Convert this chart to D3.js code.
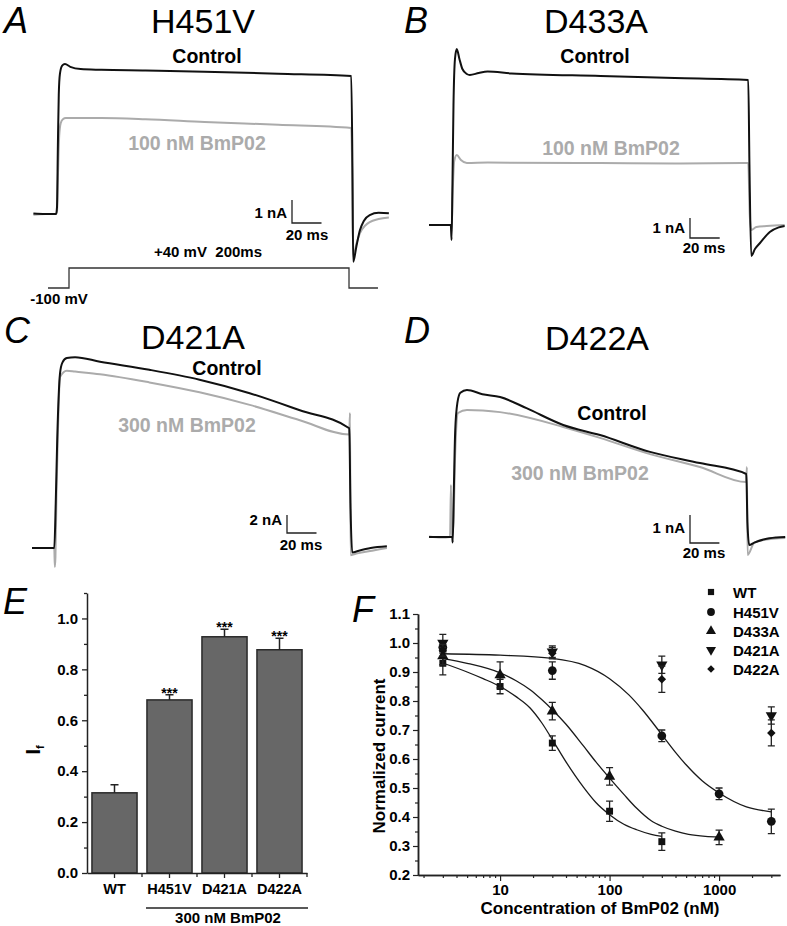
<!DOCTYPE html>
<html>
<head>
<meta charset="utf-8">
<script src="https://cdn.jsdelivr.net/npm/d3@7"></script>
<style>
  body { margin: 0; background: #fff; }
  svg { font-family: "Liberation Sans", Arial, Helvetica, sans-serif; }
</style>
</head>
<body>
<svg id="fig" width="787" height="926"></svg>
<script>
// ---------- current traces: [time (ms from step onset), current (nA)] ----------
const h451vControl = [[-16,0.02],[-8,0],[-0.6,0],[0,0.3],[0.6,3],[1.2,5.2],[2,6.1],[3.5,6.45],[5.4,6.52],[9,6.4],[16,6.3],[30,6.27],[60,6.24],[100,6.19],[150,6.1],[199.5,6.0],[200.3,2],[200.8,-2.08],[203,-1.4],[205.4,-0.7],[208,-0.3],[212,-0.05],[218,0.05],[225,0.03]];
const h451vDrug = [[-16,-0.03],[-8,0],[-0.6,0],[0,0.1],[0.7,1.8],[1.5,3.4],[2.5,3.95],[4,4.12],[6,4.17],[30,4.17],[60,4.12],[100,4.0],[150,3.88],[199.5,3.74],[200.3,1],[200.8,-1.85],[203,-1.3],[205.4,-0.83],[209,-0.5],[212,-0.35],[218,-0.22],[225,-0.15]];

const d433aControl = [[-15.5,0],[-8,0],[-0.8,0],[-0.3,-0.75],[0.3,2],[1,6],[2,8.3],[3.2,8.8],[5,8.3],[7,7.8],[10,7.55],[12,7.5],[18,7.6],[24,7.67],[40,7.58],[100,7.45],[150,7.35],[199.5,7.25],[200.3,3],[201.5,-1.55],[204,-1.2],[207.4,-0.9],[214,-0.35],[220,-0.12],[224,-0.05]];
const d433aDrug = [[-15.5,0],[-8,0],[-0.8,0],[-0.3,-0.3],[0.4,1.5],[1.5,3.2],[3.2,3.5],[6,3.25],[10,3.1],[24,3.12],[100,3.1],[150,3.08],[199.5,3.1],[200.5,0.5],[201.5,-0.25],[205,-0.1],[212,-0.05],[224,0]];

const d421aControl = [[-15.6,0],[-8,0],[-0.5,0],[0.5,5],[1.5,12],[3.4,19.4],[5,20.6],[8,21.1],[13.6,21.2],[30.5,20.7],[64,19.8],[98,18.7],[132,17.2],[166,15.3],[199.5,13.3],[200.3,5],[201.5,-0.5],[206,-0.3],[214,0],[225,0.2]];
const d421aDrug = [[-15.6,0],[-8,0],[-0.5,0],[-0.1,-2.1],[0.3,-1],[1,6],[2,13],[3.4,19],[8,19.7],[13.6,19.6],[30.5,19.3],[64,18.4],[98,17.3],[132,15.9],[166,14.2],[199.5,12.6],[200,15],[200.4,-0.8],[205,-0.6],[215,-0.3],[225,0]];

const d422aControl = [[-16.3,0],[-8,0],[-0.5,0],[-0.2,-0.2],[0.5,1.5],[1.5,3.8],[3,4.8],[5,5.15],[9.5,5.25],[20,5.1],[32,5.0],[50,4.6],[75,4.0],[100,3.64],[134,3.04],[168,2.64],[199.5,2.25],[200.3,0.5],[201.5,-0.29],[205,-0.2],[212,-0.08],[220,-0.02],[226,0]];
const d422aDrug = [[-16.3,0.02],[-8,-0.02],[-2,0],[-1.4,1.86],[-0.9,0],[0.3,0.5],[1.5,3],[3.4,4.43],[9.5,4.54],[32,4.46],[75,3.93],[100,3.54],[134,2.96],[168,2.5],[199.5,1.96],[199.9,2.5],[200.4,-0.64],[205,-0.2],[212,-0.1],[226,-0.04]];

// voltage protocol
const protocolT = [-15, 0, 0.01, 200, 200.01, 220.7];
const protocolV = [-100, -100, 40, 40, -100, -100];

// ---------- panel E: fractional current ----------
const eGroups = ["WT", "H451V", "D421A", "D422A"];
const eMeans = [0.315, 0.68, 0.928, 0.877];
const eErrs = [0.032, 0.02, 0.03, 0.045];
const eSig = ["", "***", "***", "***"];
const eYTicks = [0, 0.2, 0.4, 0.6, 0.8, 1.0];

// ---------- panel F: concentration-response ----------
const fConc = [3, 10, 30, 100, 300, 1000, 3000];
const fSeries = ["WT", "H451V", "D433A", "D421A", "D422A"];
const wtMean    = [0.93, 0.85, 0.655, 0.42, 0.315, null, null];
const wtErr     = [0.04, 0.025, 0.025, 0.035, 0.03, null, null];
const h451vMean = [0.985, null, 0.905, null, 0.68, 0.48, 0.385];
const h451vErr  = [0.02, null, 0.03, null, 0.02, 0.02, 0.042];
const d433aMean = [0.955, 0.89, 0.765, 0.54, null, 0.33, null];
const d433aErr  = [0.03, 0.045, 0.03, 0.03, null, 0.025, null];
const d421aMean = [1.0, null, 0.97, null, 0.925, null, 0.75];
const d421aErr  = [0.03, null, 0.02, null, 0.03, null, 0.03];
const d422aMean = [0.975, null, 0.965, null, 0.875, null, 0.69];
const d422aErr  = [0.02, null, 0.02, null, 0.045, null, 0.045];
// fitted curves: [conc, normalized current]
const wtFit    = [[3,0.931],[5,0.9],[7,0.877],[10,0.85],[14,0.815],[18.8,0.776],[24,0.725],[30,0.667],[40,0.59],[57.7,0.503],[75,0.45],[100,0.408],[135,0.375],[177,0.356],[240,0.34],[300,0.333]];
const d433aFit = [[3,0.946],[5,0.93],[10,0.897],[14,0.87],[18.8,0.839],[24,0.805],[30,0.77],[40,0.72],[57.7,0.645],[75,0.59],[100,0.534],[135,0.478],[177,0.43],[240,0.387],[300,0.368],[400,0.351],[526,0.34],[750,0.333],[1000,0.331]];
const h451vFit = [[3,0.963],[10,0.958],[30,0.947],[60,0.922],[100,0.877],[150,0.821],[200,0.769],[300,0.684],[400,0.623],[500,0.58],[700,0.525],[1000,0.483],[1778,0.435],[3000,0.418]];
const fYTicks = [0.2, 0.3, 0.4, 0.5, 0.6, 0.7, 0.8, 0.9, 1.0, 1.1];
const fXMajor = [10, 100, 1000];

const BLACK = "#111", GREY = "#ababab";
const svg = d3.select("#fig");

// ---------- trace panels A-D ----------
const traceLayout = [
  { letter: "A", lx: 4, ly: 33, title: "H451V", tx: 203, ty: 33, x0: 57, msPx: 1.475, y0: 214, nAPx: 23,
    ctrl: h451vControl, drug: h451vDrug, ctrlPos: [207, 63], drugText: "100 nM BmP02", drugPos: [197, 150],
    bar: [292, 223], barNA: 1, naPos: [287, 218], msPos: [307, 240] },
  { letter: "B", lx: 404, ly: 33, title: "D433A", tx: 596, ty: 33, x0: 452, msPx: 1.485, y0: 225, nAPx: 20,
    ctrl: d433aControl, drug: d433aDrug, ctrlPos: [595, 63], drugText: "100 nM BmP02", drugPos: [611, 155],
    bar: [690, 238], barNA: 1, naPos: [685, 233], msPos: [704, 253] },
  { letter: "C", lx: 4, ly: 343, title: "D421A", tx: 193, ty: 349, x0: 55, msPx: 1.475, y0: 548, nAPx: 9,
    ctrl: d421aControl, drug: d421aDrug, ctrlPos: [227, 375], drugText: "300 nM BmP02", drugPos: [187, 432],
    bar: [287, 533], barNA: 2, naPos: [282, 525], msPos: [301, 550] },
  { letter: "D", lx: 404, ly: 343, title: "D422A", tx: 597, ty: 350, x0: 453, msPx: 1.47, y0: 537, nAPx: 28,
    ctrl: d422aControl, drug: d422aDrug, ctrlPos: [612, 420], drugText: "300 nM BmP02", drugPos: [580, 480],
    bar: [690, 543], barNA: 1, naPos: [685, 533], msPos: [704, 558] }
];

function letter(x, y, t) {
  svg.append("text").attr("x", x).attr("y", y).attr("font-size", 36).attr("font-style", "italic")
    .attr("fill", "#000").text(t);
}

traceLayout.forEach(p => {
  const g = svg.append("g");
  const sx = d3.scaleLinear().domain([0, 200]).range([p.x0, p.x0 + 200 * p.msPx]);
  const sy = d3.scaleLinear().domain([0, 1]).range([p.y0, p.y0 - p.nAPx]);
  const line = d3.line().x(d => sx(d[0])).y(d => sy(d[1])).curve(d3.curveMonotoneX);

  g.append("path").datum(p.drug).attr("d", line).attr("fill", "none")
    .attr("stroke", GREY).attr("stroke-width", 2).attr("stroke-linejoin", "round");
  g.append("path").datum(p.ctrl).attr("d", line).attr("fill", "none")
    .attr("stroke", BLACK).attr("stroke-width", 2).attr("stroke-linejoin", "round");

  letter(p.lx, p.ly, p.letter);
  g.append("text").attr("x", p.tx).attr("y", p.ty).attr("text-anchor", "middle")
    .attr("font-size", 34).text(p.title);
  g.append("text").attr("x", p.ctrlPos[0]).attr("y", p.ctrlPos[1]).attr("text-anchor", "middle")
    .attr("font-size", 19.5).attr("font-weight", "bold").text("Control");
  g.append("text").attr("x", p.drugPos[0]).attr("y", p.drugPos[1]).attr("text-anchor", "middle")
    .attr("font-size", 19.5).attr("font-weight", "bold").attr("fill", GREY).text(p.drugText);

  // scale bar
  const [cx, cy] = p.bar;
  const vLen = sy(0) - sy(p.barNA);
  const hLen = sx(20) - sx(0);
  g.append("path").attr("d", `M${cx},${cy - vLen}V${cy}H${cx + hLen}`)
    .attr("fill", "none").attr("stroke", "#222").attr("stroke-width", 1.3);
  g.append("text").attr("x", p.naPos[0]).attr("y", p.naPos[1]).attr("text-anchor", "end")
    .attr("font-size", 15).attr("font-weight", "bold").text(p.barNA + " nA");
  g.append("text").attr("x", p.msPos[0]).attr("y", p.msPos[1]).attr("text-anchor", "middle")
    .attr("font-size", 15).attr("font-weight", "bold").text("20 ms");
});

// voltage protocol under panel A
{
  const px = d3.scaleLinear().domain([0, 200]).range([69, 349]);
  const py = d3.scaleLinear().domain([-100, 40]).range([288, 268]);
  const pts = protocolT.map((t, i) => [t, protocolV[i]]);
  svg.append("path").datum(pts)
    .attr("d", d3.line().x(d => px(d[0])).y(d => py(d[1])))
    .attr("fill", "none").attr("stroke", "#333").attr("stroke-width", 1.3);
  svg.append("text").attr("x", 208).attr("y", 257).attr("text-anchor", "middle")
    .attr("font-size", 15).attr("font-weight", "bold").attr("xml:space", "preserve").text("+40 mV  200ms");
  svg.append("text").attr("x", 59).attr("y", 304).attr("text-anchor", "middle")
    .attr("font-size", 15).attr("font-weight", "bold").text("-100 mV");
}

// ---------- panel E ----------
{
  const g = svg.append("g");
  const x = d3.scaleBand().domain(eGroups).range([87, 307]).paddingInner(0.18).paddingOuter(0.09);
  const y = d3.scaleLinear().domain([0, 1.1]).range([873, 593]);
  letter(3, 614, "E");

  g.selectAll("rect.bar").data(eGroups).join("rect").attr("class", "bar")
    .attr("x", d => x(d)).attr("width", x.bandwidth())
    .attr("y", (d, i) => y(eMeans[i])).attr("height", (d, i) => y(0) - y(eMeans[i]))
    .attr("fill", "#676767").attr("stroke", "#2a2a2a").attr("stroke-width", 1.5);

  // upward error bars
  g.selectAll("path.err").data(eGroups).join("path").attr("class", "err")
    .attr("d", (d, i) => {
      const cx = x(d) + x.bandwidth() / 2, top = y(eMeans[i] + eErrs[i]);
      return `M${cx},${y(eMeans[i])}V${top}M${cx - 4},${top}H${cx + 4}`;
    })
    .attr("fill", "none").attr("stroke", "#222").attr("stroke-width", 1.5);

  g.selectAll("text.sig").data(eGroups).join("text").attr("class", "sig")
    .attr("x", d => x(d) + x.bandwidth() / 2)
    .attr("y", (d, i) => y(eMeans[i] + eErrs[i]) + 3)
    .attr("text-anchor", "middle").attr("font-size", 14).attr("font-weight", "bold")
    .text((d, i) => eSig[i]);

  // y axis
  const yAx = g.append("g").attr("transform", "translate(87,0)")
    .call(d3.axisLeft(y).tickValues(eYTicks).tickFormat(d3.format(".1f")).tickSize(5).tickSizeOuter(0).tickPadding(4));
  g.append("g").attr("transform", "translate(87,0)")
    .call(d3.axisLeft(y).tickValues([0.1, 0.3, 0.5, 0.7, 0.9, 1.1]).tickFormat("").tickSize(3).tickSizeOuter(0))
    .call(a => a.select(".domain").remove())
    .call(a => a.selectAll(".tick line").attr("stroke", "#222").attr("stroke-width", 1.3));
  // x axis
  const xAx = g.append("g").attr("transform", "translate(0,873)")
    .call(d3.axisBottom(x).tickSize(5).tickSizeOuter(0).tickPadding(6));
  const bounds = eGroups.map(d => x(d) + x.bandwidth() + x.step() * 0.09);
  g.selectAll("line.btick").data(bounds).join("line").attr("class", "btick")
    .attr("x1", d => d).attr("x2", d => d).attr("y1", 873).attr("y2", 877)
    .attr("stroke", "#222").attr("stroke-width", 1.3);
  [yAx, xAx].forEach(a => {
    a.select(".domain").attr("stroke", "#222").attr("stroke-width", 1.5);
    a.selectAll(".tick line").attr("stroke", "#222").attr("stroke-width", 1.3);
    a.selectAll("text").attr("font-family", null).attr("font-size", 15).attr("font-weight", "bold").attr("fill", "#000");
  });
  xAx.selectAll("text").attr("font-size", 14.5);

  g.append("line").attr("x1", 146).attr("x2", 308).attr("y1", 908).attr("y2", 908)
    .attr("stroke", "#222").attr("stroke-width", 1.3);
  g.append("text").attr("x", 228).attr("y", 923).attr("text-anchor", "middle")
    .attr("font-size", 15).attr("font-weight", "bold").text("300 nM BmP02");

  const yl = g.append("text").attr("transform", "translate(40,750) rotate(-90)")
    .attr("text-anchor", "middle").attr("font-size", 20).attr("font-weight", "bold");
  yl.append("tspan").text("I");
  yl.append("tspan").attr("font-size", 11).attr("dy", 4).text("f");
}

// ---------- panel F ----------
{
  const g = svg.append("g");
  const x = d3.scaleLog().domain([1.78, 3600]).range([418, 780]);
  const y = d3.scaleLinear().domain([0.2, 1.1]).range([875, 614]);
  letter(352, 622, "F");

  const minor = [];
  [1, 10, 100, 1000].forEach(dec => d3.range(2, 10).forEach(k => {
    const v = dec * k;
    if (v >= 1.78 && v <= 3600) minor.push(v);
  }));
  const xMin = g.append("g").attr("transform", "translate(0,875)")
    .call(d3.axisBottom(x).tickValues(minor).tickFormat("").tickSize(3).tickSizeOuter(0));
  const xAx = g.append("g").attr("transform", "translate(0,875)")
    .call(d3.axisBottom(x).tickValues(fXMajor).tickFormat(d3.format("d")).tickSize(6).tickSizeOuter(0).tickPadding(3));
  const yMin = g.append("g").attr("transform", "translate(418,0)")
    .call(d3.axisLeft(y).tickValues(d3.range(0.25, 1.1, 0.1)).tickFormat("").tickSize(3).tickSizeOuter(0));
  const yAx = g.append("g").attr("transform", "translate(418,0)")
    .call(d3.axisLeft(y).tickValues(fYTicks).tickFormat(d3.format(".1f")).tickSize(5).tickSizeOuter(0).tickPadding(3));
  [xMin, xAx, yMin, yAx].forEach(a => {
    a.select(".domain").attr("stroke", "#222").attr("stroke-width", 1.5);
    a.selectAll(".tick line").attr("stroke", "#222").attr("stroke-width", 1.2);
    a.selectAll("text").attr("font-family", null).attr("font-size", 15).attr("font-weight", "bold").attr("fill", "#000");
  });

  g.append("text").attr("x", 600).attr("y", 914).attr("text-anchor", "middle")
    .attr("font-size", 17).attr("font-weight", "bold").text("Concentration of BmP02 (nM)");
  g.append("text").attr("transform", "translate(385,756) rotate(-90)").attr("text-anchor", "middle")
    .attr("font-size", 17).attr("font-weight", "bold").text("Normalized current");

  // fit curves
  const fitLine = d3.line().x(d => x(d[0])).y(d => y(d[1])).curve(d3.curveMonotoneX);
  [wtFit, d433aFit, h451vFit].forEach(f => {
    g.append("path").datum(f).attr("d", fitLine).attr("fill", "none")
      .attr("stroke", "#1a1a1a").attr("stroke-width", 1.3);
  });

  const shapes = {
    "WT": { type: d3.symbolSquare, size: 48, rot: 0 },
    "H451V": { type: d3.symbolCircle, size: 60, rot: 0 },
    "D433A": { type: d3.symbolTriangle, size: 55, rot: 0 },
    "D421A": { type: d3.symbolTriangle, size: 55, rot: 180 },
    "D422A": { type: d3.symbolSquare, size: 36, rot: 45 }
  };
  const means = { "WT": wtMean, "H451V": h451vMean, "D433A": d433aMean, "D421A": d421aMean, "D422A": d422aMean };
  const errs = { "WT": wtErr, "H451V": h451vErr, "D433A": d433aErr, "D421A": d421aErr, "D422A": d422aErr };

  fSeries.forEach(s => {
    const pts = fConc.map((c, i) => ({ c, m: means[s][i], e: errs[s][i] })).filter(d => d.m != null);
    g.selectAll(null).data(pts).join("path")
      .attr("d", d => {
        const cx = x(d.c), t = y(d.m + d.e), b = y(d.m - d.e);
        return `M${cx},${t}V${b}M${cx - 3.5},${t}H${cx + 3.5}M${cx - 3.5},${b}H${cx + 3.5}`;
      })
      .attr("fill", "none").attr("stroke", "#222").attr("stroke-width", 1.3);
    const sh = shapes[s];
    g.selectAll(null).data(pts).join("path")
      .attr("d", d3.symbol(sh.type, sh.size))
      .attr("transform", d => `translate(${x(d.c)},${y(d.m)}) rotate(${sh.rot})`)
      .attr("fill", "#111");
  });

  // legend
  const legY = [592, 612, 631, 650, 669];
  fSeries.forEach((s, i) => {
    const sh = shapes[s];
    g.append("path").attr("d", d3.symbol(sh.type, sh.size * 0.8))
      .attr("transform", `translate(711,${legY[i]}) rotate(${sh.rot})`).attr("fill", "#111");
    g.append("text").attr("x", 733).attr("y", legY[i] + 5.5)
      .attr("font-size", 15).attr("font-weight", "bold").text(s);
  });
}
</script>
</body>
</html>
